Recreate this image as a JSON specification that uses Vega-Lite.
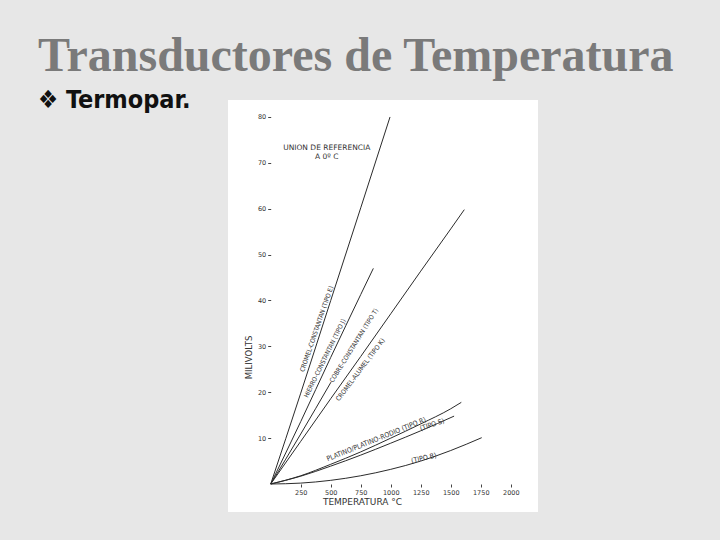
{
  "$schema": "https://vega.github.io/schema/vega-lite/v6.json",
  "width": 310,
  "height": 412,
  "autosize": {"type": "none"},
  "padding": {"left": 228, "top": 100, "right": 182, "bottom": 28},
  "background": "#e7e7e7",
  "view": {"fill": "white", "stroke": null},
  "title": {
    "text": "Transductores de Temperatura",
    "subtitle": "❖ Termopar.",
    "anchor": "start",
    "frame": "bounds",
    "dx": -190,
    "offset": -13,
    "font": "Liberation Serif",
    "fontSize": 48,
    "fontWeight": "bold",
    "color": "#7a7a7a",
    "subtitleFont": "DejaVu Sans Condensed",
    "subtitleFontSize": 25,
    "subtitleFontWeight": "bold",
    "subtitleColor": "#111111",
    "subtitlePadding": 7
  },
  "data": {"name": "lines"},
  "datasets": {
    "lines": [
      {"tipo": "E", "t": 0, "mv": 0}, {"tipo": "E", "t": 250, "mv": 19.8}, {"tipo": "E", "t": 500, "mv": 40.0}, {"tipo": "E", "t": 750, "mv": 60.2}, {"tipo": "E", "t": 994, "mv": 80.0},
      {"tipo": "J", "t": 0, "mv": 0}, {"tipo": "J", "t": 250, "mv": 13.6}, {"tipo": "J", "t": 500, "mv": 27.6}, {"tipo": "J", "t": 750, "mv": 41.3}, {"tipo": "J", "t": 855, "mv": 47.0},
      {"tipo": "T", "t": 0, "mv": 0}, {"tipo": "T", "t": 250, "mv": 10.9}, {"tipo": "T", "t": 502, "mv": 22.2},
      {"tipo": "K", "t": 0, "mv": 0}, {"tipo": "K", "t": 250, "mv": 9.3}, {"tipo": "K", "t": 500, "mv": 18.6}, {"tipo": "K", "t": 750, "mv": 27.8}, {"tipo": "K", "t": 1000, "mv": 37.1}, {"tipo": "K", "t": 1250, "mv": 46.4}, {"tipo": "K", "t": 1500, "mv": 55.6}, {"tipo": "K", "t": 1613, "mv": 59.8},
      {"tipo": "R", "t": 0, "mv": 0}, {"tipo": "R", "t": 250, "mv": 1.8}, {"tipo": "R", "t": 500, "mv": 4.3}, {"tipo": "R", "t": 750, "mv": 7.0}, {"tipo": "R", "t": 1000, "mv": 10.0}, {"tipo": "R", "t": 1250, "mv": 13.1}, {"tipo": "R", "t": 1500, "mv": 16.4}, {"tipo": "R", "t": 1588, "mv": 17.8},
      {"tipo": "S", "t": 0, "mv": 0}, {"tipo": "S", "t": 250, "mv": 1.7}, {"tipo": "S", "t": 500, "mv": 3.9}, {"tipo": "S", "t": 750, "mv": 6.3}, {"tipo": "S", "t": 1000, "mv": 8.9}, {"tipo": "S", "t": 1250, "mv": 11.6}, {"tipo": "S", "t": 1528, "mv": 14.8},
      {"tipo": "B", "t": 0, "mv": 0}, {"tipo": "B", "t": 250, "mv": 0.2}, {"tipo": "B", "t": 500, "mv": 0.8}, {"tipo": "B", "t": 750, "mv": 1.8}, {"tipo": "B", "t": 1000, "mv": 3.2}, {"tipo": "B", "t": 1250, "mv": 5.0}, {"tipo": "B", "t": 1500, "mv": 7.3}, {"tipo": "B", "t": 1758, "mv": 10.1}
    ]
  },
  "encoding": {
    "x": {
      "field": "t",
      "type": "quantitative",
      "scale": {"domain": [-356, 2227], "nice": false, "zero": false},
      "axis": {
        "title": "TEMPERATURA °C",
        "values": [250, 500, 750, 1000, 1250, 1500, 1750, 2000],
        "format": "d",
        "offset": -28,
        "domain": false,
        "grid": false,
        "tickSize": 3,
        "tickColor": "#444444",
        "labelPadding": 2,
        "labelFlush": false,
        "labelOverlap": false,
        "labelFont": "DejaVu Sans",
        "labelFontSize": 6.5,
        "labelColor": "#333333",
        "titleFont": "DejaVu Sans",
        "titleFontSize": 9,
        "titleFontWeight": "normal",
        "titleColor": "#333333",
        "titlePadding": 2,
        "titleX": 134
      }
    },
    "y": {
      "field": "mv",
      "type": "quantitative",
      "scale": {"domain": [-6.1, 83.7], "nice": false, "zero": false},
      "axis": {
        "title": "MILIVOLTS",
        "values": [10, 20, 30, 40, 50, 60, 70, 80],
        "format": "d",
        "offset": -42.7,
        "domain": false,
        "grid": false,
        "tickSize": 3,
        "tickColor": "#444444",
        "labelPadding": 2,
        "labelFlush": false,
        "labelOverlap": false,
        "labelFont": "DejaVu Sans",
        "labelFontSize": 6.5,
        "labelColor": "#333333",
        "titleFont": "DejaVu Sans",
        "titleFontSize": 8.5,
        "titleFontWeight": "normal",
        "titleColor": "#333333",
        "titleAngle": -90,
        "titleAlign": "center",
        "titleBaseline": "bottom",
        "titleX": -17,
        "titleY": 257
      }
    }
  },
  "layer": [
    {
      "data": {"values": [{}]},
      "mark": {"type": "rule", "color": "#a80000", "strokeWidth": 30, "strokeCap": "butt", "clip": false},
      "encoding": {"x": {"datum": {"expr": "-1739"}, "type": "quantitative"}, "x2": {"datum": 3211}, "y": {"datum": 102.2}}
    },
    {
      "data": {"values": [{}]},
      "mark": {"type": "rule", "color": "#a00000", "strokeWidth": 3, "strokeCap": "butt", "clip": false},
      "encoding": {"x": {"datum": {"expr": "-1739"}, "type": "quantitative"}, "x2": {"datum": {"expr": "-131"}}, "y": {"datum": {"expr": "-0.76"}, "type": "quantitative"}}
    },
    {
      "data": {"values": [{}]},
      "mark": {"type": "rule", "color": "#a00000", "strokeWidth": 3, "strokeCap": "butt", "clip": false},
      "encoding": {"x": {"datum": 2227}, "x2": {"datum": 3211}, "y": {"datum": {"expr": "-0.76"}, "type": "quantitative"}}
    },
    {
      "data": {"values": [{}]},
      "mark": {"type": "rule", "color": "#444444", "strokeWidth": 1},
      "encoding": {"x": {"datum": 0}, "x2": {"datum": 2063}, "y": {"datum": 0}}
    },
    {
      "data": {"values": [{}]},
      "mark": {"type": "rule", "color": "#444444", "strokeWidth": 1},
      "encoding": {"x": {"datum": 0}, "y": {"datum": 0}, "y2": {"datum": 80.6}}
    },
    {
      "mark": {"type": "line", "interpolate": "monotone", "color": "#2b2b2b", "strokeWidth": 1},
      "encoding": {"detail": {"field": "tipo"}}
    },
    {
      "data": {"values": [{"label": "UNION DE REFERENCIA\nA 0º C", "t": 467, "mv": 72.8}]},
      "mark": {"type": "text", "lineBreak": "\n", "lineHeight": 9, "font": "DejaVu Sans", "fontSize": 7.5, "color": "#333333", "align": "center", "baseline": "alphabetic"},
      "encoding": {"text": {"field": "label"}}
    },
    {
      "data": {"values": [{"label": "CROMEL-CONSTANTAN (TIPO E)", "t": 384, "mv": 33.8}]},
      "mark": {"type": "text", "angle": -71, "font": "DejaVu Sans Condensed", "fontSize": 6.4, "color": "#333333", "align": "center", "baseline": "middle"},
      "encoding": {"text": {"field": "label"}}
    },
    {
      "data": {"values": [{"label": "HIERRO-CONSTANTAN (TIPO J)", "t": 452, "mv": 27.4}]},
      "mark": {"type": "text", "angle": -64, "font": "DejaVu Sans Condensed", "fontSize": 6.4, "color": "#333333", "align": "center", "baseline": "middle"},
      "encoding": {"text": {"field": "label"}}
    },
    {
      "data": {"values": [{"label": "COBRE-CONSTANTAN (TIPO T)", "t": 694, "mv": 30.2}]},
      "mark": {"type": "text", "angle": -58, "font": "DejaVu Sans Condensed", "fontSize": 6.4, "color": "#333333", "align": "center", "baseline": "middle"},
      "encoding": {"text": {"field": "label"}}
    },
    {
      "data": {"values": [{"label": "CROMEL-ALUMEL (TIPO K)", "t": 748, "mv": 24.9}]},
      "mark": {"type": "text", "angle": -53, "font": "DejaVu Sans Condensed", "fontSize": 6.6, "color": "#333333", "align": "center", "baseline": "middle"},
      "encoding": {"text": {"field": "label"}}
    },
    {
      "data": {"values": [{"label": "PLATINO/PLATINO-RODIO  (TIPO R)", "t": 881, "mv": 9.7}]},
      "mark": {"type": "text", "angle": -22, "font": "DejaVu Sans Condensed", "fontSize": 7, "color": "#333333", "align": "center", "baseline": "middle"},
      "encoding": {"text": {"field": "label"}}
    },
    {
      "data": {"values": [{"label": "(TIPO S)", "t": 1345, "mv": 12.9}]},
      "mark": {"type": "text", "angle": -18, "font": "DejaVu Sans Condensed", "fontSize": 7, "color": "#333333", "align": "center", "baseline": "middle"},
      "encoding": {"text": {"field": "label"}}
    },
    {
      "data": {"values": [{"label": "(TIPO B)", "t": 1276, "mv": 5.6}]},
      "mark": {"type": "text", "angle": -13, "font": "DejaVu Sans Condensed", "fontSize": 7, "color": "#333333", "align": "center", "baseline": "middle"},
      "encoding": {"text": {"field": "label"}}
    }
  ]
}
